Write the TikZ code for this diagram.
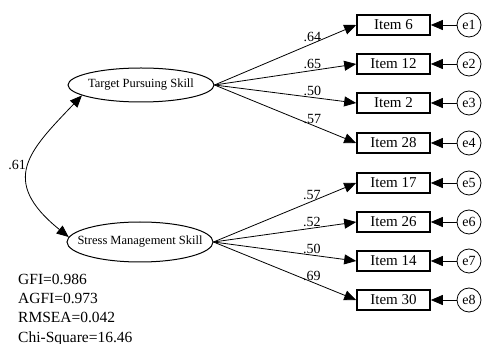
\documentclass[tikz,border=0pt]{standalone}
\usepackage{fontspec}
\setmainfont{Liberation Serif}
\usetikzlibrary{arrows.meta,shapes.geometric}

\begin{document}
\begin{tikzpicture}[x=1pt,y=-1pt,
latent/.style={draw,ellipse,line width=1pt,inner sep=0pt,minimum width=146pt},
lattext/.style={font=\fontsize{12.5}{14}\selectfont,inner sep=0pt},
item/.style={draw,rectangle,line width=1.6pt,minimum width=73pt,minimum height=20pt,inner sep=0pt,font=\fontsize{15}{17}\selectfont},
err/.style={draw,circle,line width=0.8pt,minimum size=24pt,inner sep=0pt,font=\fontsize{14}{16}\selectfont},
load/.style={line width=0.8pt,-{Triangle[length=12pt,width=10pt]}},
coef/.style={font=\fontsize{14}{16}\selectfont,inner sep=0pt,above=1pt,pos=.69},
stat/.style={anchor=base west,inner sep=0pt,font=\fontsize{15.5}{18}\selectfont}]
\useasboundingbox (0,0) rectangle (484,344);

\node[latent,minimum height=34pt,label={[lattext]center:Target Pursuing Skill}](tps) at (141,85){};
\node[latent,minimum height=40pt,label={[lattext]center:Stress Management Skill}](sms) at (140,242){};

\node[item](i6) at (393.5,25){Item 6};
\node[item](i12) at (393.5,64){Item 12};
\node[item](i2) at (393.5,103){Item 2};
\node[item](i28) at (393.5,143){Item 28};
\node[item](i17) at (393.5,183){Item 17};
\node[item](i26) at (393.5,222){Item 26};
\node[item](i14) at (393.5,261){Item 14};
\node[item](i30) at (393.5,300){Item 30};

\node[err](e1) at (469,25){e1};
\node[err](e2) at (469,64){e2};
\node[err](e3) at (469,103){e3};
\node[err](e4) at (469,143){e4};
\node[err](e5) at (469,183){e5};
\node[err](e6) at (469,222){e6};
\node[err](e7) at (469,261){e7};
\node[err](e8) at (469,300){e8};

\draw[load](tps.east) -- node[coef]{.64} (i6.west);
\draw[load](tps.east) -- node[coef]{.65} (i12.west);
\draw[load](tps.east) -- node[coef]{.50} (i2.west);
\draw[load](tps.east) -- node[coef]{.57} (i28.west);
\draw[load](sms.east) -- node[coef]{.57} (i17.west);
\draw[load](sms.east) -- node[coef]{.52} (i26.west);
\draw[load](sms.east) -- node[coef]{.50} (i14.west);
\draw[load](sms.east) -- node[coef]{.69} (i30.west);

\draw[load](e1.west) -- (i6.east);
\draw[load](e2.west) -- (i12.east);
\draw[load](e3.west) -- (i2.east);
\draw[load](e4.west) -- (i28.east);
\draw[load](e5.west) -- (i17.east);
\draw[load](e6.west) -- (i26.east);
\draw[load](e7.west) -- (i14.east);
\draw[load](e8.west) -- (i30.east);

\draw[line width=0.8pt,{Triangle[length=12pt,width=10pt]}-{Triangle[length=12pt,width=10pt]}]
(tps.190) .. controls (30,150) and (-2,180) .. (sms.176)
node[pos=.5,left=3pt,font=\fontsize{14}{16}\selectfont,inner sep=0pt](cov){.61};

\node[stat](gfi) at (18,285){GFI=0.986};
\node[stat](agfi) at (18,304){AGFI=0.973};
\node[stat](rmsea) at (18,323){RMSEA=0.042};
\node[stat](chisq) at (18,342){Chi-Square=16.46};
\end{tikzpicture}
\end{document}
